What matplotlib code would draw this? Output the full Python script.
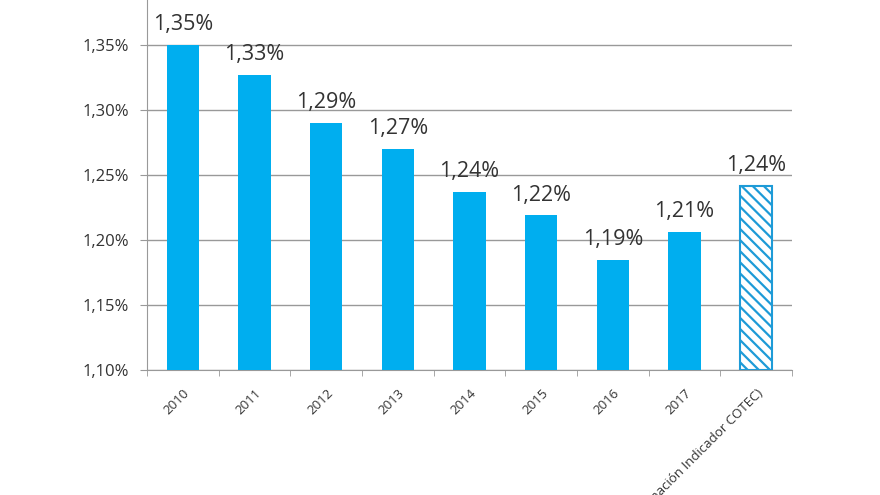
import matplotlib.pyplot as plt
import numpy as np

plt.rcParams['font.family'] = ['Open Sans', 'DejaVu Sans']

years = ['2010', '2011', '2012', '2013', '2014', '2015', '2016', '2017',
         '2018 (Estimación Indicador COTEC)']
values = [1.35, 1.327, 1.29, 1.27, 1.237, 1.219, 1.185, 1.206, 1.2415]
labels = ['1,35%', '1,33%', '1,29%', '1,27%', '1,24%', '1,22%', '1,19%', '1,21%', '1,24%']
yticks = [1.10, 1.15, 1.20, 1.25, 1.30, 1.35]
ytick_labels = ['1,10%', '1,15%', '1,20%', '1,25%', '1,30%', '1,35%']

blue = '#00AEEF'
fig = plt.figure(figsize=(8.8, 4.95), dpi=100)
ax = fig.add_axes([147 / 880, 125 / 495, 645 / 880, 370 / 495])

x = np.arange(len(years))
base = 1.10
for i, v in enumerate(values):
    if i < len(values) - 1:
        ax.bar(x[i], v - base, bottom=base, width=0.45, color=blue, zorder=3)
    else:
        plt.rcParams['hatch.color'] = '#1E9BD7'
        plt.rcParams['hatch.linewidth'] = 1.6
        ax.bar(x[i], v - base, bottom=base, width=0.45, color='white',
               edgecolor='#1E9BD7', hatch='\\\\\\', linewidth=1.5, zorder=3)
    ax.text(x[i], v + 0.0075, labels[i], ha='center', va='bottom',
            fontsize=15.5, color='#333333', zorder=4)

ax.set_xlim(-0.5, len(years) - 0.5)
ax.set_ylim(1.10, 1.10 + 370 / 1300)
ax.set_yticks(yticks)
ax.set_yticklabels(ytick_labels, fontsize=12, color='#333333')
ax.yaxis.grid(True, color='#999999', linewidth=1, zorder=0)
ax.set_xticks(x)
ax.set_xticklabels(years, rotation=45, ha='right', rotation_mode='anchor',
                   fontsize=9.5, color='#333333')
ax.set_xticks(np.arange(len(years) + 1) - 0.5, minor=True)
ax.tick_params(axis='x', which='major', length=0, pad=12)
ax.tick_params(axis='x', which='minor', length=4, color='#999999')
ax.tick_params(axis='y', length=5, color='#999999', pad=8)

for s in ['top', 'right']:
    ax.spines[s].set_visible(False)
for s in ['left', 'bottom']:
    ax.spines[s].set_color('#999999')

fig.savefig('out.png', dpi=100)
